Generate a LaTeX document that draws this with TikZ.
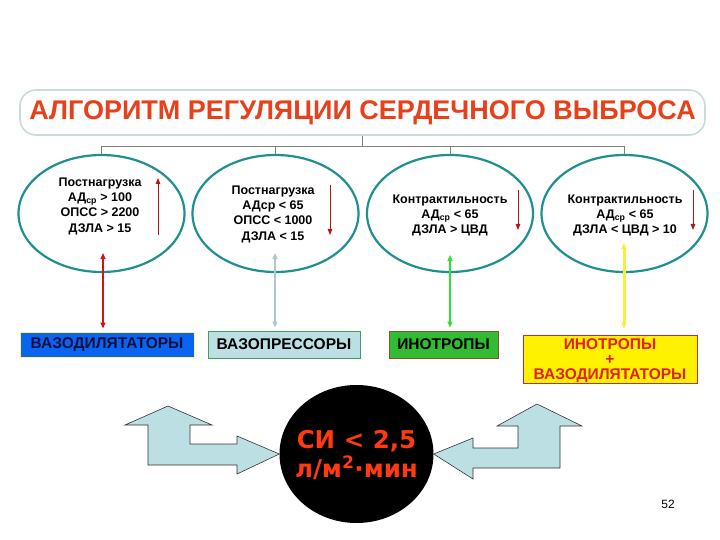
\documentclass[tikz,border=0pt]{standalone}
\usepackage{fontspec}
\setmainfont{Liberation Sans}
\newfontfamily\verdfont{DejaVu Sans}
\usetikzlibrary{shapes.geometric,arrows.meta}

\definecolor{ovalteal}{RGB}{31,143,143}
\definecolor{titleline}{RGB}{200,220,222}
\definecolor{titlered}{RGB}{232,64,26}
\definecolor{darkred}{RGB}{176,24,24}
\definecolor{midred}{RGB}{200,24,24}
\definecolor{paleblue}{RGB}{188,223,227}
\definecolor{arrgreen}{RGB}{48,224,48}
\definecolor{arryellow}{RGB}{245,240,64}
\definecolor{vasoblue}{RGB}{10,100,240}
\definecolor{inogreen}{RGB}{51,187,51}
\definecolor{cired}{RGB}{255,58,16}

\begin{document}
\begin{tikzpicture}[x=1pt,y=-1pt,
	oval/.style={ellipse, draw=ovalteal, line width=2.2pt, fill=white,
		minimum width=166pt, minimum height=117pt, inner sep=0pt},
	ovaltext/.style={align=center, font=\bfseries\fontsize{12.5}{15.3}\selectfont},
	drugbox/.style={draw, line width=0.8pt, inner sep=0pt, align=center,
		font=\bfseries\fontsize{15.5}{15}\selectfont},
	trend/.style={draw=darkred, line width=0.9pt, -{Triangle[length=6pt,width=4.5pt]}},
	link/.style={line width=1.2pt, {Triangle[length=6pt,width=5pt]}-{Triangle[length=6pt,width=5pt]}, shorten >=3pt},
	bentarrow/.style={fill=paleblue, draw=black!80, line width=0.6pt, line join=miter}
	]
	\useasboundingbox (0,0) rectangle (720,540);

	% Title
	\node (title) [draw=titleline, line width=1.6pt, rounded corners=16pt, fill=white,
		minimum width=685pt, minimum height=45pt, text=titlered,
		font=\bfseries\fontsize{27}{27}\selectfont] at (362.5,112.5) {АЛГОРИТМ РЕГУЛЯЦИИ СЕРДЕЧНОГО ВЫБРОСА};

	% Ovals
	\node (e1) [oval] at (101.5,213.5) {};
	\node (e2) [oval] at (275.5,213.5) {};
	\node (e3) [oval] at (450,213.5) {};
	\node (e4) [oval] at (624.5,213.5) {};

	% Bracket
	\coordinate (bar) at (0,146);
	\draw [black!50, line width=0.6pt] (title.south) -- (title.south |- bar);
	\draw [black!50, line width=0.6pt] (e1.north) -- (e1.north |- bar) -- (e4.north |- bar) -- (e4.north);
	\draw [black!50, line width=0.6pt] (e2.north) -- (e2.north |- bar);
	\draw [black!50, line width=0.6pt] (e3.north) -- (e3.north |- bar);

	% Oval texts
	\node (t1) [ovaltext] at (100,206) {Постнагрузка\\АД\textsubscript{ср} > 100\\ОПСС > 2200\\ДЗЛА > 15};
	\node (t2) [ovaltext] at (273,214) {Постнагрузка\\АДср < 65\\ОПСС < 1000\\ДЗЛА < 15};
	\node (t3) [ovaltext] at (450,215.5) {Контрактильность\\АД\textsubscript{ср} < 65\\ДЗЛА > ЦВД};
	\node (t4) [ovaltext] at (625,215.5) {Контрактильность\\АД\textsubscript{ср} < 65\\ДЗЛА < ЦВД > 10};

	% Trend arrows
	\coordinate (a1) at (158,235); \coordinate (b1) at (158,178);
	\coordinate (a2) at (330,185); \coordinate (b2) at (330,235);
	\coordinate (a3) at (518,190); \coordinate (b3) at (518,230);
	\coordinate (a4) at (693,190); \coordinate (b4) at (693,230);
	\draw [trend] (a1) -- (b1);
	\draw [trend] (a2) -- (b2);
	\draw [trend] (a3) -- (b3);
	\draw [trend] (a4) -- (b4);

	% Drug boxes
	\node (vaso) [drugbox, fill=vasoblue, draw=yellow!60, text={rgb,255:red,16;green,16;blue,64},
		minimum width=174pt, minimum height=25pt] at (107,344.5) {ВАЗОДИЛЯТАТОРЫ};
	\node (press) [drugbox, fill=paleblue, draw={rgb,255:red,64;green,160;blue,96},
		minimum width=152pt, minimum height=27pt] at (284,344.5) {ВАЗОПРЕССОРЫ};
	\node (ino) [drugbox, fill=inogreen, draw={rgb,255:red,138;green,80;blue,48},
		minimum width=109pt, minimum height=27pt] at (443.5,344.5) {ИНОТРОПЫ};
	\node (combo) [draw={rgb,255:red,192;green,48;blue,48}, fill=yellow, line width=0.8pt,
		minimum width=174pt, minimum height=48pt] at (610,359) {};
	\node (combotext) [align=center, text={rgb,255:red,224;green,32;blue,32},
		font=\bfseries\fontsize{15.5}{15}\selectfont] at (610,361) {ИНОТРОПЫ\\+\\ВАЗОДИЛЯТАТОРЫ};

	% Links
	\coordinate (u1) at (103,253);
	\coordinate (u2) at (275,253);
	\coordinate (u3) at (450,255);
	\coordinate (u4) at (624,243);
	\draw [link, midred] (u1) -- (vaso.north -| u1);
	\draw [link, paleblue!90!black] (u2) -- (press.north -| u2);
	\draw [link, arrgreen] (u3) -- (ino.north -| u3);
	\draw [link, arryellow, line width=3pt, shorten >=6pt] (u4) -- (combo.north -| u4);

	% Cardiac index
	\node (ci) [ellipse, fill=black, minimum width=154pt, minimum height=138pt, inner sep=0pt] at (356.5,454) {};
	\node (citext) [align=center, text=cired, font=\verdfont\bfseries\fontsize{24.5}{29}\selectfont]
		at (356.5,455) {СИ < 2,5\\л/м\textsuperscript{2}·мин};

	% Bent arrows
	\draw [bentarrow] (168,406) -- (212,425) -- (190,425) -- (190,444) -- (237,444) -- (237,436)
		-- (ci.west) -- (237,474) -- (237,465) -- (148,465) -- (148,425) -- (125,425) -- cycle;
	\draw [bentarrow] (537,404) -- (582,426) -- (560,426) -- (560,468) -- (473,468) -- (473,479)
		-- (ci.east) -- (473,438) -- (473,448) -- (518,448) -- (518,426) -- (497,426) -- cycle;

	% Page number
	\node (page) [font=\fontsize{12}{12}\selectfont] at (668,504) {52};
\end{tikzpicture}
\end{document}
